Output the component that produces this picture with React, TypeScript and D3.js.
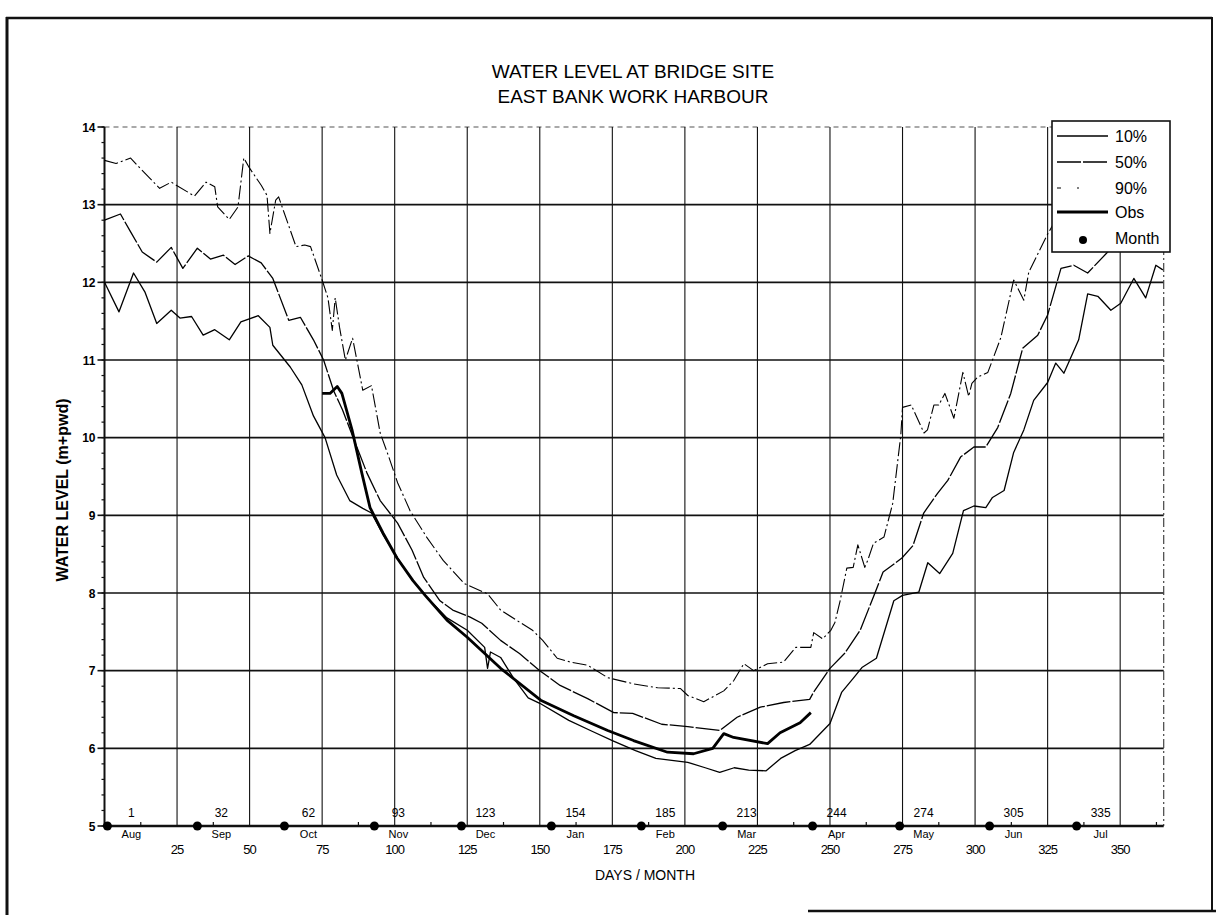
import React, { useEffect, useRef } from 'react';
import * as d3 from 'd3';

// month start days (day 1 = 1 Aug)
const monthDays = [1, 32, 62, 93, 123, 154, 185, 213, 244, 274, 305, 335];
const monthNames = ['Aug', 'Sep', 'Oct', 'Nov', 'Dec', 'Jan', 'Feb', 'Mar', 'Apr', 'May', 'Jun', 'Jul'];
const dayTicks = [25, 50, 75, 100, 125, 150, 175, 200, 225, 250, 275, 300, 325, 350];
const levelTicks = [5, 6, 7, 8, 9, 10, 11, 12, 13, 14];

// [day, water level m+pwd]
const p10 = [
  [0, 12.0], [5, 11.62], [10, 12.12], [14, 11.87], [18, 11.47], [23, 11.64], [26, 11.54], [30, 11.56],
  [34, 11.32], [38, 11.39], [43, 11.26], [47, 11.49], [53, 11.57], [57, 11.42], [58, 11.19], [64, 10.91],
  [68, 10.68], [72, 10.28], [76, 10.0], [80, 9.52], [84.5, 9.19], [89, 9.09], [92, 9.03], [96, 8.75],
  [101, 8.45], [106, 8.17], [111, 7.95], [118, 7.68], [125, 7.52], [131, 7.3], [132, 7.03], [133, 7.24],
  [136.5, 7.17], [141, 6.9], [146, 6.65], [150, 6.58], [160, 6.36], [168, 6.22], [175, 6.1], [183, 5.97],
  [190, 5.87], [201, 5.82], [207, 5.75], [212, 5.69], [217, 5.75], [222, 5.72], [228, 5.71], [233, 5.87],
  [238, 5.97], [243, 6.05], [250, 6.32], [254, 6.72], [258, 6.9], [261, 7.04], [266, 7.16], [272, 7.9],
  [275, 7.97], [280.6, 8.01], [283.7, 8.39], [287.8, 8.25], [292.3, 8.51], [296, 9.06], [299.6, 9.12],
  [303.7, 9.1], [306, 9.23], [310, 9.32], [313.3, 9.81], [316.8, 10.1], [320.2, 10.48], [325, 10.71],
  [327.8, 10.96], [330.6, 10.83], [335.7, 11.26], [338.8, 11.85], [342.3, 11.82], [346.8, 11.64],
  [350.2, 11.73], [354.7, 12.05], [358.8, 11.8], [362.3, 12.22], [364.7, 12.16],
];

const p50 = [
  [0, 12.8], [5.5, 12.88], [9, 12.65], [13, 12.39], [18, 12.26], [23, 12.45], [27, 12.18], [32, 12.44],
  [36.5, 12.3], [41, 12.35], [45, 12.23], [49.5, 12.34], [54, 12.25], [58, 12.05], [63.5, 11.51],
  [67.5, 11.55], [72, 11.26], [75.5, 11.0], [79, 10.6], [82, 10.36], [85.7, 10.0], [90.5, 9.54], [95, 9.19],
  [101, 8.9], [106, 8.55], [110, 8.2], [115.6, 7.9], [120, 7.78], [126, 7.69], [130, 7.61], [136.5, 7.39],
  [143, 7.22], [150, 7.0], [157, 6.81], [166.5, 6.64], [175.5, 6.46], [182, 6.45], [192, 6.31], [201, 6.28],
  [212, 6.23], [218, 6.4], [226, 6.53], [234, 6.59], [243, 6.63], [244.3, 6.72], [250, 7.03], [255, 7.22],
  [260.4, 7.52], [265.5, 8.0], [268.3, 8.27], [274.8, 8.45], [278.6, 8.61], [282.3, 9.03], [287, 9.28],
  [290.6, 9.45], [295, 9.75], [299.6, 9.88], [303.7, 9.88], [307.8, 10.13], [312.3, 10.57], [316.4, 11.15],
  [321.6, 11.32], [325, 11.58], [329.6, 12.18], [334, 12.22], [338.8, 12.12], [345.7, 12.39], [355, 12.7],
  [365, 12.9],
];

const p90 = [
  [0, 13.57], [4, 13.53], [9, 13.6], [12, 13.48], [19, 13.21], [23, 13.29], [31, 13.11], [35, 13.29],
  [38, 13.23], [39, 12.97], [43, 12.81], [46, 12.97], [48, 13.6], [50, 13.47], [54, 13.25], [56, 13.12],
  [57, 12.63], [59, 13.06], [60, 13.1], [66, 12.46], [69, 12.48], [71, 12.46], [75, 12.03], [77, 11.8],
  [78.5, 11.38], [79.5, 11.8], [81, 11.42], [83, 11.0], [85.5, 11.28], [89, 10.61], [92, 10.67], [95, 10.06],
  [98, 9.75], [101, 9.42], [105.3, 9.06], [111, 8.72], [116.7, 8.42], [124, 8.12], [132, 7.99], [136.5, 7.78],
  [147.5, 7.52], [151, 7.39], [156, 7.16], [160.6, 7.11], [166.5, 7.07], [173.4, 6.91], [182.3, 6.83],
  [190.6, 6.78], [198.5, 6.77], [201, 6.68], [206.5, 6.6], [213.4, 6.74], [216.8, 6.87], [220.3, 7.09],
  [223.7, 7.0], [228.5, 7.09], [234, 7.11], [238.2, 7.3], [243.4, 7.3], [244.4, 7.49], [247.5, 7.41],
  [250.3, 7.52], [251.7, 7.62], [253.5, 7.9], [255.8, 8.32], [258, 8.33], [259.6, 8.62], [262, 8.33],
  [263, 8.42], [265, 8.64], [268.6, 8.72], [271.6, 9.15], [274.4, 10.03], [275, 10.39], [278, 10.42],
  [282.4, 10.06], [283.6, 10.1], [285.8, 10.42], [287.5, 10.42], [289.6, 10.57], [292.7, 10.25],
  [295.8, 10.84], [297.8, 10.53], [298.9, 10.7], [300.9, 10.78], [304.4, 10.84], [308.9, 11.29],
  [313.3, 12.03], [316.8, 11.77], [318.5, 12.13], [324.7, 12.6], [326.8, 12.74], [332, 13.1], [340, 13.4],
];

const obs = [
  [75, 10.57], [77.7, 10.57], [80.2, 10.66], [81.8, 10.57], [85.3, 10.1], [88.7, 9.54], [91.5, 9.1],
  [96, 8.77], [100.8, 8.45], [106.3, 8.16], [110.5, 7.97], [118, 7.65], [125, 7.43], [136.5, 7.03],
  [150.3, 6.62], [161.7, 6.42], [173.4, 6.23], [182.3, 6.1], [194, 5.95], [203, 5.93], [209.6, 6.0],
  [213.4, 6.19], [216.8, 6.14], [228.5, 6.06], [232.8, 6.2], [239.7, 6.33], [243.4, 6.46],
];

const seriesNames = ['10%', '50%', '90%', 'Obs'];

const FONT = '"Liberation Sans", Arial, sans-serif';

const WaterLevelChart = () => {
  const svgRef = useRef(null);

  useEffect(() => {
    const svg = d3.select(svgRef.current);
    svg.selectAll('*').remove();

    const width = 1216, height = 915;
    svg.attr('width', width).attr('height', height);

    const x = d3.scaleLinear().domain([0, 365]).range([104.5, 1163.7]);
    const y = d3.scaleLinear().domain([5, 14]).range([826, 127]);

    // page frame (scanned sheet)
    const frame = svg.append('g').attr('stroke', '#111').attr('fill', 'none');
    frame.append('line').attr('x1', 7).attr('x2', 7).attr('y1', 17).attr('y2', 915).attr('stroke-width', 3);
    frame.append('line').attr('x1', 6).attr('x2', 1212).attr('y1', 18).attr('y2', 18).attr('stroke-width', 2.5);
    frame.append('line').attr('x1', 1212).attr('x2', 1212).attr('y1', 17).attr('y2', 911).attr('stroke-width', 2);
    frame.append('line').attr('x1', 808).attr('x2', 1216).attr('y1', 911).attr('y2', 911).attr('stroke-width', 2.5);

    // title
    svg.append('text').attr('x', 633).attr('y', 78).attr('text-anchor', 'middle')
      .style('font-family', FONT).style('font-size', '19px').text('WATER LEVEL AT BRIDGE SITE');
    svg.append('text').attr('x', 633).attr('y', 103).attr('text-anchor', 'middle')
      .style('font-family', FONT).style('font-size', '19px').text('EAST BANK WORK HARBOUR');

    const grid = svg.append('g').attr('stroke', '#111');

    // horizontal grid
    grid.selectAll('.hg').data(levelTicks.filter(v => v > 5 && v < 14)).enter().append('line')
      .attr('x1', x(0)).attr('x2', x(365)).attr('y1', d => y(d)).attr('y2', d => y(d))
      .attr('stroke-width', 1.7);
    grid.append('line').attr('x1', x(0)).attr('x2', x(365)).attr('y1', y(14)).attr('y2', y(14))
      .attr('stroke-width', 1.2).attr('stroke', '#555').attr('stroke-dasharray', '5,4');

    // vertical grid
    grid.selectAll('.vg').data(dayTicks).enter().append('line')
      .attr('x1', d => x(d)).attr('x2', d => x(d)).attr('y1', y(14)).attr('y2', y(5))
      .attr('stroke-width', 1.1);
    grid.append('line').attr('x1', x(365)).attr('x2', x(365)).attr('y1', y(14)).attr('y2', y(5))
      .attr('stroke-width', 1.2).attr('stroke', '#444').attr('stroke-dasharray', '9,3,2,3');

    // y axis
    grid.append('line').attr('x1', x(0)).attr('x2', x(0)).attr('y1', y(14)).attr('y2', y(5)).attr('stroke-width', 2);
    const minorY = d3.range(50, 141, 2).map(v => v / 10);
    grid.selectAll('.ym').data(minorY).enter().append('line')
      .attr('x1', x(0) - 3).attr('x2', x(0)).attr('y1', d => y(d)).attr('y2', d => y(d)).attr('stroke-width', 1.2);
    grid.selectAll('.yM').data(levelTicks).enter().append('line')
      .attr('x1', x(0) - 7).attr('x2', x(0)).attr('y1', d => y(d)).attr('y2', d => y(d)).attr('stroke-width', 1.6);

    svg.selectAll('.yl').data(levelTicks).enter().append('text')
      .attr('x', x(0) - 9).attr('y', d => y(d) + 4.5).attr('text-anchor', 'end')
      .style('font-family', FONT).style('font-size', '12px').style('font-weight', 'bold')
      .text(d => d);

    // x axis
    grid.append('line').attr('x1', x(0)).attr('x2', x(365)).attr('y1', y(5)).attr('y2', y(5)).attr('stroke-width', 2.4);
    grid.selectAll('.xm').data(d3.range(12.5, 365, 25)).enter().append('line')
      .attr('x1', d => x(d)).attr('x2', d => x(d)).attr('y1', y(5)).attr('y2', y(5) - 4).attr('stroke-width', 1.2);

    svg.selectAll('.xl').data(dayTicks).enter().append('text')
      .attr('x', d => x(d)).attr('y', 854).attr('text-anchor', 'middle')
      .style('font-family', FONT).style('font-size', '13px').style('letter-spacing', '-1px')
      .text(d => d);

    // month markers
    svg.selectAll('.md').data(monthDays).enter().append('circle')
      .attr('cx', d => x(d)).attr('cy', y(5)).attr('r', 4.5).attr('fill', '#000');
    svg.selectAll('.mdl').data(monthDays).enter().append('text')
      .attr('x', d => x(d) + 24).attr('y', 817).attr('text-anchor', 'middle')
      .style('font-family', FONT).style('font-size', '12px').text(d => d);
    svg.selectAll('.mn').data(monthNames).enter().append('text')
      .attr('x', (d, i) => x(monthDays[i]) + 24).attr('y', 838).attr('text-anchor', 'middle')
      .style('font-family', FONT).style('font-size', '11px').text(d => d);

    // axis titles
    svg.append('text').attr('x', 645).attr('y', 880).attr('text-anchor', 'middle')
      .style('font-family', FONT).style('font-size', '14px').text('DAYS / MONTH');
    svg.append('text').attr('transform', `translate(68, 490) rotate(-90)`).attr('text-anchor', 'middle')
      .style('font-family', FONT).style('font-size', '16px').style('font-weight', 'bold')
      .text('WATER LEVEL (m+pwd)');

    // series
    const line = d3.line().x(d => x(d[0])).y(d => y(d[1]));
    const styles = {
      '10%': { data: p10, w: 1.3, dash: null },
      '50%': { data: p50, w: 1.3, dash: '24,2' },
      '90%': { data: p90, w: 1.1, dash: '14,3,2,3' },
      'Obs': { data: obs, w: 2.8, dash: null },
    };
    seriesNames.forEach(name => {
      const s = styles[name];
      svg.append('path').datum(s.data).attr('d', line)
        .attr('fill', 'none').attr('stroke', '#000').attr('stroke-width', s.w)
        .attr('stroke-linejoin', 'round')
        .attr('stroke-dasharray', s.dash);
    });

    // legend
    const lg = svg.append('g').attr('transform', 'translate(1052, 121)');
    lg.append('rect').attr('width', 118).attr('height', 131).attr('fill', '#fff')
      .attr('stroke', '#111').attr('stroke-width', 1.6);
    const rowY = [15, 41, 67, 91, 117];
    seriesNames.forEach((name, i) => {
      const s = styles[name];
      lg.append('line').attr('x1', 5).attr('x2', 56).attr('y1', rowY[i]).attr('y2', rowY[i])
        .attr('stroke', '#000').attr('stroke-width', s.w).attr('stroke-dasharray', name === '90%' ? '4,16,2,30' : s.dash);
      lg.append('text').attr('x', 63).attr('y', rowY[i] + 6)
        .style('font-family', FONT).style('font-size', '16px').text(name);
    });
    lg.append('circle').attr('cx', 31).attr('cy', rowY[4] + 2).attr('r', 4).attr('fill', '#000');
    lg.append('text').attr('x', 63).attr('y', rowY[4] + 6)
      .style('font-family', FONT).style('font-size', '16px').text('Month');
  }, []);

  return <svg ref={svgRef}></svg>;
};

export default function App() {
  return (
    <div style={{ position: 'absolute', left: 0, top: 0, width: 1216, height: 915, background: '#fff' }}>
      <WaterLevelChart />
    </div>
  );
}
